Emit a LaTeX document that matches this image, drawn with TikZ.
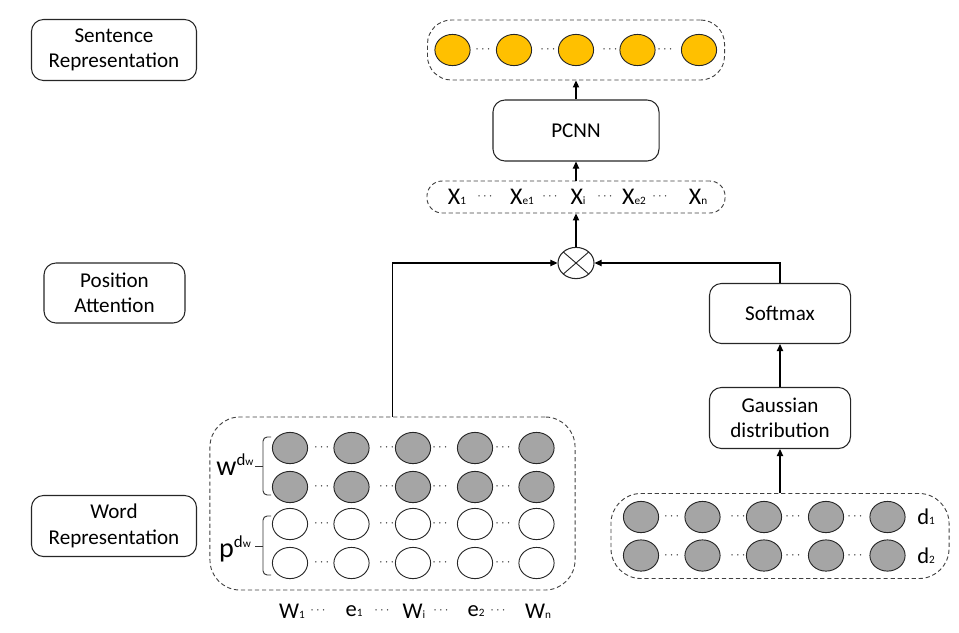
\documentclass[tikz,border=0pt]{standalone}
\usepackage{fontspec}
\setmainfont{Carlito}
\usepackage{tikz}
\usetikzlibrary{arrows.meta,shapes.geometric}
\definecolor{gold}{HTML}{FFC000}
\definecolor{unitgray}{HTML}{A5A5A5}
\newcommand{\lowsub}[1]{{\fontsize{8}{8}\selectfont #1}}
\newcommand{\supdw}{\raisebox{7pt}{\fontsize{12}{12}\selectfont d\lowsub{w}}}

\begin{document}
\begin{tikzpicture}[x=0.025cm, y=-0.025cm,
	box/.style={draw=black!85, line width=0.75pt, rounded corners=0.3cm, align=center,
		font=\fontsize{15}{18}\selectfont, inner sep=0pt},
	group/.style={draw=black!75, line width=0.65pt, dash pattern=on 3pt off 2pt, inner sep=0pt},
	unit/.style={draw=black!85, line width=0.65pt, ellipse, inner sep=0pt,
		minimum width=0.88cm, minimum height=0.78cm},
	dotsep/.style={inner sep=0pt, text=black!85, font=\fontsize{9}{10}\selectfont},
	word/.style={inner sep=0pt, font=\fontsize{16}{18}\selectfont},
	conn/.style={draw=black, line width=0.75pt, -{Triangle[length=5pt,width=4.5pt]}}]
		%%%%% START %%%%%
		\useasboundingbox (0,0) rectangle (959,632);
		
		% left captions
		\node[box, minimum width=4.125cm, minimum height=1.525cm] (sentcap) at (114,50) {Sentence\\Representation};
		\node[box, minimum width=3.525cm, minimum height=1.5cm] (poscap) at (114.5,293) {Position\\Attention};
		\node[box, minimum width=4.125cm, minimum height=1.525cm] (wordcap) at (114,526) {Word\\Representation};
		
		% sentence vector
		\node[group, rounded corners=0.6cm, minimum width=7.425cm, minimum height=1.5cm] (outbox) at (576,50) {};
		\foreach \cx [count=\i] in {452.5,514,576,637.5,699}
			\node[unit, fill=gold] (s\i) at (\cx,50) {};
		\foreach \dx [count=\i] in {483,548,610,665}
			\node[dotsep] (sd\i) at (\dx,50) {$\cdots$};
		
		\node[box, minimum width=4.15cm, minimum height=1.525cm] (pcnn) at (576,130.5) {PCNN};
		
		% input sequence
		\node[group, rounded corners=0.38cm, minimum width=7.45cm, minimum height=0.8cm] (xbox) at (576,197) {};
		\node[word, font=\fontsize{17}{18}\selectfont] (x1) at (457,197) {X\lowsub{1}};
		\node[word, font=\fontsize{17}{18}\selectfont] (xe1) at (522,197) {X\lowsub{e1}};
		\node[word, font=\fontsize{17}{18}\selectfont] (xi) at (578,197) {X\lowsub{i}};
		\node[word, font=\fontsize{17}{18}\selectfont] (xe2) at (634,197) {X\lowsub{e2}};
		\node[word, font=\fontsize{17}{18}\selectfont] (xn) at (698,197) {X\lowsub{n}};
		\foreach \dx [count=\i] in {485,550,605,660}
			\node[dotsep] (xd\i) at (\dx,197) {$\cdots$};
		
		% product
		\node[draw=black!85, line width=0.75pt, ellipse, inner sep=0pt, minimum width=0.9cm, minimum height=0.78cm,
			path picture={\draw[line width=0.65pt] (path picture bounding box.north west) -- (path picture bounding box.south east)
				(path picture bounding box.south west) -- (path picture bounding box.north east);}] (mul) at (576,263) {};
		
		\node[box, minimum width=3.525cm, minimum height=1.5cm] (softmax) at (780,313.5) {Softmax};
		\node[box, minimum width=3.525cm, minimum height=1.525cm] (gauss) at (780,418) {Gaussian\\distribution};
		
		% word representation
		\node[group, rounded corners=0.75cm, minimum width=9.125cm, minimum height=4.325cm] (wordbox) at (392.5,503.5) {};
		\foreach \ry [count=\j] in {448,487}
			\foreach \cx [count=\i] in {290,351.5,413,475,536.5}
				\node[unit, fill=unitgray] (w\j\i) at (\cx,\ry) {};
		\foreach \ry [count=\j] in {524,563}
			\foreach \cx [count=\i] in {290,351.5,413,475,536.5}
				\node[unit, fill=white] (p\j\i) at (\cx,\ry) {};
		\foreach \ry in {448,487,524,563}
			\foreach \dx in {321.7,386.7,440,503}
				\node[dotsep] at (\dx,\ry) {$\cdots$};
		
		\draw[line width=0.65pt, draw=black!80, rounded corners=3pt] (271,437) -| (263,495) -- (271,495);
		\draw[line width=0.65pt, draw=black!80] (255,466.5) -- (263,466.5);
		\draw[line width=0.65pt, draw=black!80, rounded corners=3pt] (271,516) -| (263,575) -- (271,575);
		\draw[line width=0.65pt, draw=black!80] (255,546) -- (263,546);
		\node[word, font=\fontsize{20}{22}\selectfont] (wlab) at (235,465) {w\supdw};
		\node[word, font=\fontsize{20}{22}\selectfont] (plab) at (235,549) {p\supdw};
		
		\node[word] (tw1) at (292,611) {W\lowsub{1}};
		\node[word] (te1) at (354,611) {e\lowsub{1}};
		\node[word] (twi) at (414,611) {W\lowsub{i}};
		\node[word] (te2) at (476,611) {e\lowsub{2}};
		\node[word] (twn) at (538,611) {W\lowsub{n}};
		\foreach \dx [count=\i] in {318,382,441,498}
			\node[dotsep] (td\i) at (\dx,611) {$\cdots$};
		
		% distance features
		\node[group, rounded corners=0.75cm, minimum width=8.45cm, minimum height=2.125cm] (distbox) at (780,536) {};
		\foreach \ry [count=\j] in {517,555.5}
			\foreach \cx [count=\i] in {641,702.5,764,826,887.5}
				\node[unit, fill=unitgray] (d\j\i) at (\cx,\ry) {};
		\foreach \ry in {517,555.5}
			\foreach \dx in {671.7,738,793,855}
				\node[dotsep] at (\dx,\ry) {$\cdots$};
		\node[word] (d1lab) at (926,517) {d\lowsub{1}};
		\node[word] (d2lab) at (926,555.5) {d\lowsub{2}};
		
		% connections
		\draw[conn] (pcnn.north) -- (outbox.south);
		\draw[conn] (xbox.north) -- (pcnn.south);
		\draw[conn] (mul.north) -- (xbox.south);
		\draw[conn] (wordbox.north) |- (mul.west);
		\draw[conn] (softmax.north) |- (mul.east);
		\draw[conn] (gauss.north) -- (softmax.south);
		\draw[conn] (distbox.north) -- (gauss.south);
		%%%%% END %%%%%
\end{tikzpicture}
\end{document}
